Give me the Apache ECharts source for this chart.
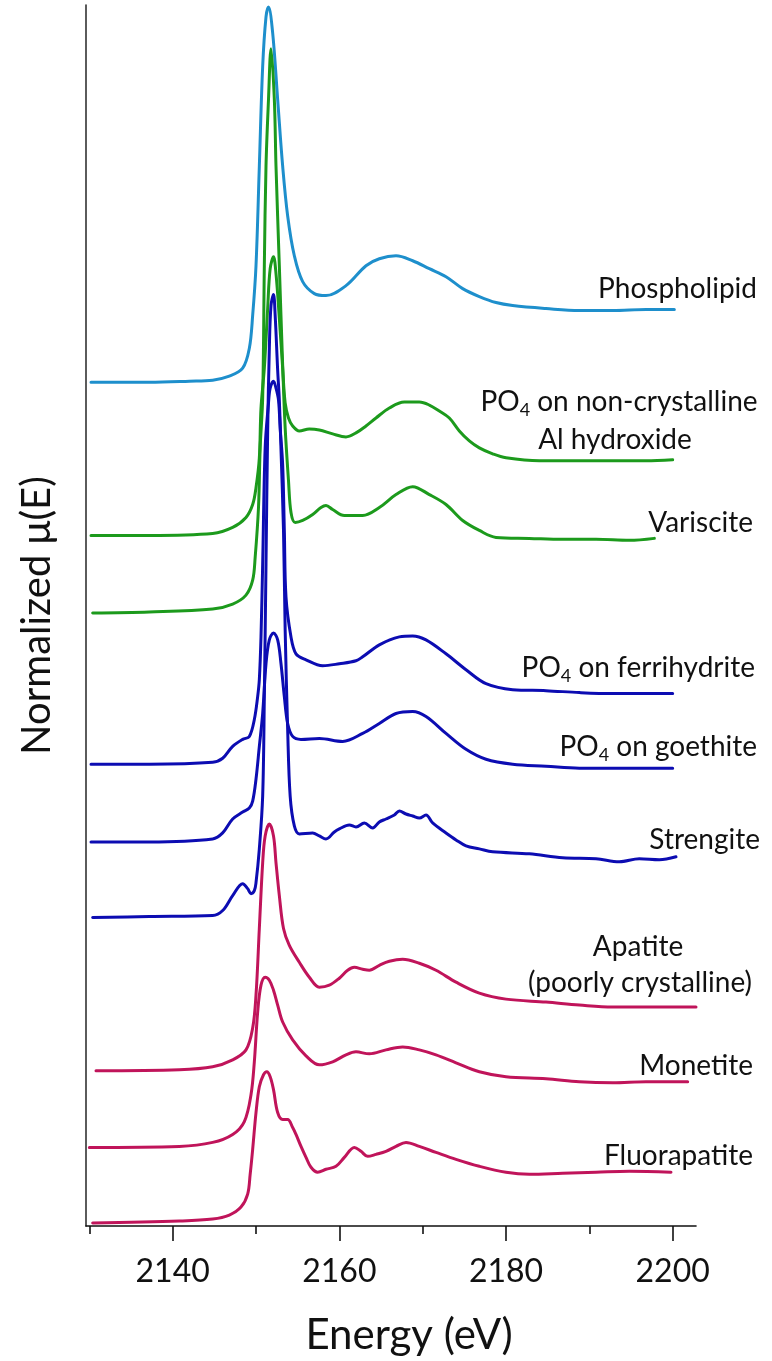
<!DOCTYPE html>
<html>
<head>
<meta charset="utf-8">
<script src="https://cdn.jsdelivr.net/npm/echarts@6/dist/echarts.min.js"></script>
<style>
html,body{margin:0;padding:0;background:#fff;}
#chart{width:772px;height:1361px;}
</style>
</head>
<body>
<div id="chart"></div>
<script>
// ---- Data: [energy (eV), normalized mu(E) + vertical offset] ----
const phospholipid = [[2130.2,16.96],[2137.2,16.96],[2142.0,16.98],[2144.8,17.0],[2146.8,17.08],[2148.4,17.24],[2149.2,17.64],[2149.6,18.3],[2150.0,19.3],[2150.4,21.3],[2150.8,23.3],[2151.2,24.3],[2151.5,24.5],[2152.0,23.98],[2152.6,22.64],[2153.2,21.3],[2153.8,20.3],[2154.6,19.5],[2155.6,18.98],[2157.0,18.74],[2158.4,18.7],[2160.8,18.9],[2163.2,19.3],[2164.8,19.44],[2166.8,19.5],[2168.8,19.4],[2170.8,19.24],[2172.8,19.08],[2174.8,18.84],[2176.8,18.68],[2178.8,18.56],[2180.8,18.5],[2184.8,18.44],[2188.8,18.4],[2192.8,18.4],[2196.8,18.42],[2200.2,18.42]];
const alHydroxide = [[2130.2,13.88],[2137.2,13.88],[2144.8,13.92],[2147.2,14.04],[2148.8,14.24],[2149.6,14.5],[2150.0,14.84],[2150.4,15.44],[2150.6,16.44],[2151.0,17.24],[2151.4,18.44],[2151.7,19.24],[2152.1,19.48],[2152.4,19.14],[2152.8,18.24],[2153.2,17.24],[2153.5,16.54],[2153.9,16.24],[2154.4,16.08],[2155.2,15.98],[2156.4,16.02],[2157.6,16.0],[2159.2,15.92],[2160.8,15.86],[2162.0,15.94],[2163.2,16.08],[2164.4,16.24],[2166.0,16.44],[2167.8,16.56],[2169.6,16.56],[2170.8,16.5],[2172.0,16.38],[2173.2,16.24],[2174.4,15.98],[2175.6,15.78],[2176.8,15.64],[2178.4,15.52],[2180.0,15.44],[2184.0,15.38],[2188.8,15.38],[2192.8,15.38],[2196.8,15.38],[2200.0,15.4]];
const variscite = [[2130.4,12.32],[2137.2,12.34],[2144.8,12.4],[2147.2,12.5],[2148.8,12.68],[2149.6,12.98],[2149.9,13.44],[2150.3,14.44],[2150.5,15.64],[2150.8,16.64],[2151.0,19.3],[2151.2,21.3],[2151.5,22.64],[2151.8,23.66],[2152.2,22.64],[2152.4,21.3],[2152.8,19.3],[2153.2,17.3],[2153.5,16.04],[2153.9,14.98],[2154.2,14.34],[2154.7,14.14],[2155.6,14.18],[2156.8,14.3],[2157.8,14.44],[2158.4,14.48],[2159.2,14.4],[2160.6,14.28],[2162.8,14.28],[2164.8,14.44],[2166.8,14.7],[2168.8,14.86],[2170.8,14.7],[2172.8,14.5],[2174.8,14.18],[2176.8,13.98],[2178.8,13.84],[2182.8,13.82],[2186.8,13.8],[2190.8,13.8],[2194.8,13.78],[2197.8,13.82]];
const ferrihydrite = [[2130.2,9.28],[2137.2,9.28],[2144.8,9.32],[2146.0,9.4],[2147.2,9.64],[2148.4,9.78],[2149.2,9.84],[2149.8,10.18],[2150.2,10.64],[2150.4,10.98],[2150.6,11.84],[2150.8,13.3],[2151.1,15.64],[2151.5,16.54],[2151.7,16.84],[2152.1,16.98],[2152.4,16.84],[2152.7,16.6],[2152.9,16.04],[2153.2,15.3],[2153.4,13.98],[2153.6,12.64],[2154.2,11.84],[2154.8,11.5],[2156.0,11.38],[2158.0,11.26],[2160.0,11.3],[2162.0,11.36],[2162.8,11.44],[2164.8,11.68],[2167.2,11.84],[2168.8,11.86],[2170.4,11.78],[2172.8,11.5],[2175.2,11.18],[2177.6,10.9],[2180.8,10.78],[2184.8,10.76],[2188.8,10.72],[2192.8,10.7],[2196.8,10.7],[2200.0,10.7]];
const goethite = [[2130.2,7.72],[2137.2,7.72],[2144.8,7.78],[2146.0,7.9],[2147.2,8.18],[2148.4,8.32],[2149.2,8.4],[2149.6,8.54],[2150.0,8.98],[2150.4,9.64],[2150.8,10.3],[2151.2,11.3],[2151.6,11.78],[2152.1,11.92],[2152.6,11.78],[2153.0,11.3],[2153.4,10.64],[2153.8,10.1],[2154.4,9.84],[2155.4,9.78],[2157.6,9.8],[2160.4,9.74],[2162.8,9.9],[2164.8,10.1],[2166.8,10.3],[2168.8,10.34],[2170.4,10.24],[2172.8,9.9],[2175.2,9.58],[2177.6,9.38],[2180.8,9.28],[2184.8,9.24],[2188.8,9.2],[2192.8,9.2],[2196.8,9.2],[2200.0,9.2]];
const strengite = [[2130.4,6.2],[2137.2,6.22],[2144.8,6.24],[2146.0,6.34],[2147.2,6.64],[2148.4,6.88],[2149.0,6.78],[2149.4,6.68],[2149.8,6.74],[2150.0,6.9],[2150.4,7.58],[2150.8,8.64],[2151.0,10.64],[2151.2,13.3],[2151.4,15.98],[2151.6,17.64],[2151.8,18.5],[2152.1,18.72],[2152.3,18.3],[2152.6,17.2],[2152.8,16.6],[2153.0,15.6],[2153.3,13.98],[2153.5,11.98],[2153.8,9.98],[2154.1,8.64],[2154.6,8.04],[2155.2,7.88],[2156.8,7.9],[2157.6,7.84],[2158.4,7.78],[2159.4,7.92],[2160.0,7.98],[2161.2,8.06],[2162.0,8.02],[2163.0,8.1],[2164.0,8.0],[2164.8,8.12],[2165.6,8.18],[2166.6,8.26],[2167.2,8.34],[2168.0,8.28],[2168.8,8.24],[2169.6,8.2],[2170.4,8.26],[2171.2,8.1],[2172.8,7.9],[2174.0,7.76],[2175.2,7.64],[2176.8,7.58],[2178.4,7.52],[2182.8,7.48],[2186.8,7.4],[2190.8,7.38],[2193.6,7.32],[2196.0,7.38],[2198.4,7.36],[2200.4,7.42]];
const apatite = [[2130.8,3.12],[2140.8,3.14],[2144.8,3.2],[2147.2,3.34],[2148.8,3.54],[2149.6,3.98],[2150.0,4.64],[2150.4,5.98],[2150.8,7.3],[2151.1,7.84],[2151.6,8.08],[2152.1,7.84],[2152.4,7.3],[2152.8,6.64],[2153.3,5.98],[2154.0,5.64],[2155.2,5.3],[2156.4,5.0],[2157.6,4.8],[2158.8,4.84],[2160.0,4.98],[2161.0,5.14],[2161.8,5.2],[2162.8,5.16],[2163.6,5.14],[2164.8,5.24],[2166.0,5.32],[2167.6,5.36],[2169.6,5.28],[2171.6,5.14],[2174.0,4.9],[2176.8,4.68],[2180.0,4.56],[2184.8,4.5],[2188.8,4.44],[2192.8,4.4],[2196.8,4.4],[2202.8,4.4]];
const monetite = [[2130.0,1.58],[2140.8,1.6],[2144.8,1.68],[2147.2,1.84],[2148.6,2.1],[2149.4,2.64],[2149.8,3.3],[2150.2,4.3],[2150.6,4.84],[2151.1,5.0],[2151.6,4.94],[2152.1,4.74],[2152.6,4.44],[2153.2,4.1],[2154.4,3.74],[2156.0,3.42],[2157.6,3.24],[2159.2,3.3],[2160.8,3.44],[2162.0,3.5],[2163.6,3.46],[2165.6,3.54],[2167.6,3.6],[2169.6,3.54],[2171.6,3.44],[2174.0,3.28],[2176.8,3.1],[2180.0,3.0],[2184.8,2.96],[2188.8,2.9],[2192.8,2.88],[2196.8,2.9],[2201.8,2.9]];
const fluorapatite = [[2130.4,0.06],[2140.8,0.1],[2144.8,0.14],[2146.8,0.22],[2148.2,0.38],[2149.0,0.64],[2149.3,1.04],[2149.6,1.54],[2150.0,2.28],[2150.4,2.8],[2150.9,3.04],[2151.3,3.1],[2151.7,3.0],[2152.1,2.74],[2152.6,2.28],[2153.2,2.14],[2153.8,2.14],[2154.4,1.98],[2154.8,1.84],[2155.4,1.6],[2156.0,1.38],[2156.6,1.18],[2157.4,1.08],[2158.4,1.14],[2159.6,1.2],[2160.6,1.38],[2161.8,1.58],[2162.6,1.5],[2163.4,1.4],[2164.4,1.44],[2165.6,1.5],[2166.8,1.6],[2168.0,1.68],[2169.6,1.6],[2171.6,1.48],[2174.0,1.34],[2176.8,1.2],[2180.0,1.08],[2182.8,1.04],[2186.8,1.06],[2190.8,1.08],[2194.8,1.1],[2199.8,1.08]];

const seriesNames = ['Phospholipid','PO4 on non-crystalline Al hydroxide','Variscite','PO4 on ferrihydrite','PO4 on goethite','Strengite','Apatite (poorly crystalline)','Monetite','Fluorapatite'];
const seriesData = [phospholipid, alHydroxide, variscite, ferrihydrite, goethite, strengite, apatite, monetite, fluorapatite];
const majorTicks = [2140, 2160, 2180, 2200];
const minorTicks = [2130, 2150, 2170, 2190];

// ---- Styles / layout ----
const LIGHTBLUE = '#1e8fcc', GREEN = '#1c9a1c', BLUE = '#0c0cb2', MAGENTA = '#c0145a';
const seriesColors = [LIGHTBLUE, GREEN, GREEN, BLUE, BLUE, BLUE, MAGENTA, MAGENTA, MAGENTA];
const FONT = 'Lato';
const INK = '#111';

// curve labels: [richText, x, y, align]
const curveLabels = [
  ['Phospholipid', 757, 289, 'right'],
  ['{a|PO}{s|4}{a| on non-crystalline}', 619, 402, 'center'],
  ['Al hydroxide', 615, 440, 'center'],
  ['Variscite', 753, 523, 'right'],
  ['{a|PO}{s|4}{a| on ferrihydrite}', 755, 668, 'right'],
  ['{a|PO}{s|4}{a| on goethite}', 757, 747, 'right'],
  ['Strengite', 760, 840, 'right'],
  ['Apatite', 638, 947, 'center'],
  ['(poorly crystalline)', 640, 983, 'center'],
  ['Monetite', 753, 1066, 'right'],
  ['Fluorapatite', 753, 1156, 'right']
];

const chart = echarts.init(document.getElementById('chart'), null, {renderer: 'canvas'});

const graphicEls = curveLabels.map(([text, x, y, align]) => ({
  type: 'text',
  x: x, y: y,
  silent: true,
  style: {
    text: text,
    font: '28px ' + FONT,
    fontSize: 28,
    fontFamily: FONT,
    fill: INK,
    align: align, textAlign: align,
    verticalAlign: 'middle', textVerticalAlign: 'middle',
    rich: {
      a: {fontSize: 28, fontFamily: FONT, fill: INK, color: INK},
      s: {fontSize: 18, fontFamily: FONT, fill: INK, color: INK, padding: [16, 0, 0, 0]}
    }
  }
}));

const option = {
  animation: false,
  backgroundColor: '#ffffff',
  grid: {left: 86, right: 76, top: 5, bottom: 129, containLabel: false},
  xAxis: [
    {
      type: 'value',
      min: 2129.6, max: 2202.8,
      name: 'Energy (eV)',
      nameLocation: 'middle',
      nameGap: 88,
      nameTextStyle: {fontFamily: FONT, fontSize: 42, color: INK, padding: [0, 0, 0, 36]},
      axisLine: {show: true, onZero: false, lineStyle: {color: '#111', width: 1.6}},
      axisTick: {show: true, inside: false, length: 15, lineStyle: {color: '#111', width: 1.6}, customValues: majorTicks},
      axisLabel: {show: true, margin: 30, fontFamily: FONT, fontSize: 32, color: INK, customValues: majorTicks,
                  formatter: v => String(v)},
      splitLine: {show: false}
    },
    {
      type: 'value',
      min: 2129.6, max: 2202.8,
      position: 'bottom',
      axisLine: {show: false},
      axisTick: {show: true, inside: false, length: 8, lineStyle: {color: '#111', width: 1.6}, customValues: minorTicks},
      axisLabel: {show: false},
      splitLine: {show: false}
    }
  ],
  yAxis: {
    type: 'value',
    min: 0, max: 24.54,
    name: 'Normalized μ(E)',
    nameLocation: 'middle',
    nameGap: 29,
    nameTextStyle: {fontFamily: FONT, fontSize: 40, color: INK},
    axisLine: {show: true, lineStyle: {color: '#333', width: 1.6}},
    axisTick: {show: false},
    axisLabel: {show: false},
    splitLine: {show: false}
  },
  series: seriesData.map((d, i) => ({
    name: seriesNames[i],
    type: 'line',
    xAxisIndex: 0,
    data: d,
    showSymbol: false,
    symbol: 'none',
    smooth: 0.35,
    silent: true,
    lineStyle: {color: seriesColors[i], width: 3, join: 'round', cap: 'round'},
    itemStyle: {color: seriesColors[i]},
    z: 2 + i
  })),
  graphic: graphicEls
};

chart.setOption(option);
</script>
</body>
</html>
